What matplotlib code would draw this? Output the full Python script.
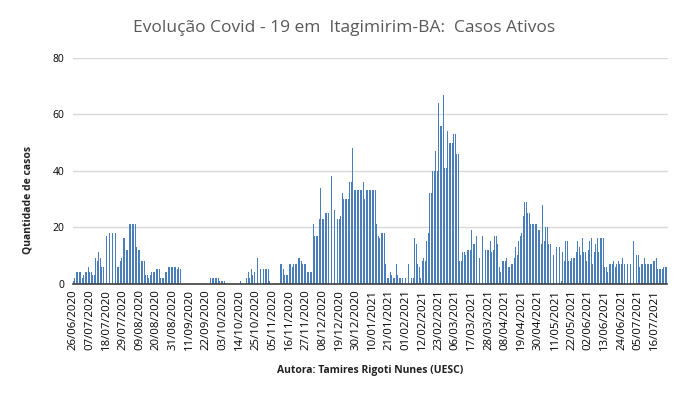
import numpy as np
import pandas as pd
import matplotlib
matplotlib.use("Agg")
import matplotlib.pyplot as plt

plt.rcParams['font.family'] = ['Open Sans', 'DejaVu Sans']

# casos ativos por dia, a partir de 26/06/2020
ativos = [
    1, 2, 4, 4, 4, 4, 2, 3, 4, 4,
    6, 4, 4, 3, 3, 9, 8, 11, 9, 6,
    6, 6, 17, 17, 18, 19, 18, 18, 18, 6,
    6, 8, 9, 16, 16, 12, 12, 21, 21, 21,
    21, 21, 13, 12, 12, 8, 8, 8, 3, 3,
    2, 3, 4, 4, 4, 5, 5, 5, 2, 2,
    2, 4, 4, 6, 6, 6, 6, 6, 6, 5,
    6, 5, 0, 0, 0, 0, 0, 0, 0, 0,
    0, 0, 0, 0, 0, 0, 0, 0, 0, 0,
    0, 2, 2, 2, 2, 2, 2, 1, 1, 1,
    1, 0, 0, 0, 0, 0, 0, 0, 0, 0,
    0, 1, 0, 0, 0, 2, 4, 2, 5, 3,
    4, 6, 9, 2, 5, 5, 5, 5, 5, 5,
    1, 0, 0, 0, 0, 0, 0, 7, 7, 5,
    3, 3, 3, 7, 7, 6, 7, 7, 7, 9,
    9, 8, 7, 7, 7, 4, 4, 4, 4, 21,
    17, 17, 17, 23, 34, 23, 23, 25, 25, 25,
    25, 38, 25, 26, 23, 23, 23, 24, 32, 30,
    30, 30, 30, 36, 36, 48, 33, 33, 33, 33,
    33, 33, 36, 30, 33, 33, 33, 33, 33, 33,
    33, 21, 17, 16, 18, 18, 18, 7, 2, 2,
    4, 3, 2, 2, 7, 3, 2, 2, 2, 2,
    2, 7, 7, 2, 2, 2, 16, 14, 7, 6,
    2, 8, 9, 8, 15, 18, 32, 32, 40, 40,
    47, 40, 64, 56, 56, 67, 41, 41, 54, 50,
    50, 50, 53, 53, 46, 46, 8, 8, 11, 11,
    10, 12, 12, 12, 19, 14, 14, 17, 11, 9,
    9, 17, 17, 12, 12, 12, 15, 11, 12, 17,
    17, 14, 6, 4, 8, 8, 8, 9, 6, 6,
    7, 7, 9, 13, 10, 15, 17, 18, 24, 29,
    29, 25, 25, 21, 21, 21, 21, 21, 19, 19,
    14, 28, 15, 20, 20, 14, 14, 14, 10, 15,
    13, 13, 13, 1, 11, 8, 15, 15, 8, 8,
    9, 9, 9, 11, 15, 13, 10, 16, 11, 11,
    8, 12, 15, 16, 7, 11, 14, 16, 11, 16,
    16, 16, 6, 6, 4, 7, 7, 7, 8, 6,
    7, 8, 7, 7, 9, 7, 7, 7, 7, 7,
    7, 15, 15, 10, 10, 6, 7, 7, 9, 7,
    7, 7, 7, 7, 8, 8, 9, 5, 5, 5,
    5, 6, 6, 6,
]
datas = pd.date_range("2020-06-26", periods=len(ativos), freq="D")
passo_rotulo = 11
yticks = [0, 20, 40, 60, 80]

fig = plt.figure(figsize=(6.88, 3.98), dpi=100)
ax = fig.add_axes([72.5 / 688, 1 - 283.5 / 398, 595 / 688, 225.5 / 398])

x = np.arange(len(ativos))
ax.bar(x, ativos, width=0.62, color="#4A7EBB", zorder=2)

ax.set_xlim(-0.5, len(ativos) - 0.5)
ax.set_ylim(0, 80)
ax.set_yticks(yticks)
ax.yaxis.grid(True, color="#D9D9D9", linewidth=1.0, zorder=0)
ax.tick_params(axis="y", length=0, labelsize=7.5, pad=6)

pos = x[::passo_rotulo]
ax.set_xticks(pos)
ax.set_xticklabels([d.strftime("%d/%m/%Y") for d in datas[::passo_rotulo]],
                   rotation=90, fontsize=8.2)
ax.tick_params(axis="x", length=0, pad=4)

for s in ["top", "right", "left"]:
    ax.spines[s].set_visible(False)
ax.spines["bottom"].set_color("#404040")
ax.spines["bottom"].set_linewidth(1.2)

fig.text(0.5, 1 - 28 / 398, "Evolução Covid - 19 em  Itagimirim-BA:  Casos Ativos",
         ha="center", va="center", fontsize=12.5, color="#595959")
fig.text(28 / 688, 1 - 200 / 398, "Quantidade de casos", rotation=90,
         ha="center", va="center", fontsize=7.5, fontweight="bold", color="#222222")
fig.text(370 / 688, 1 - 371 / 398, "Autora: Tamires Rigoti Nunes (UESC)",
         ha="center", va="center", fontsize=7.5, fontweight="bold", color="#222222")

fig.savefig("out.png", dpi=100, facecolor="white")
